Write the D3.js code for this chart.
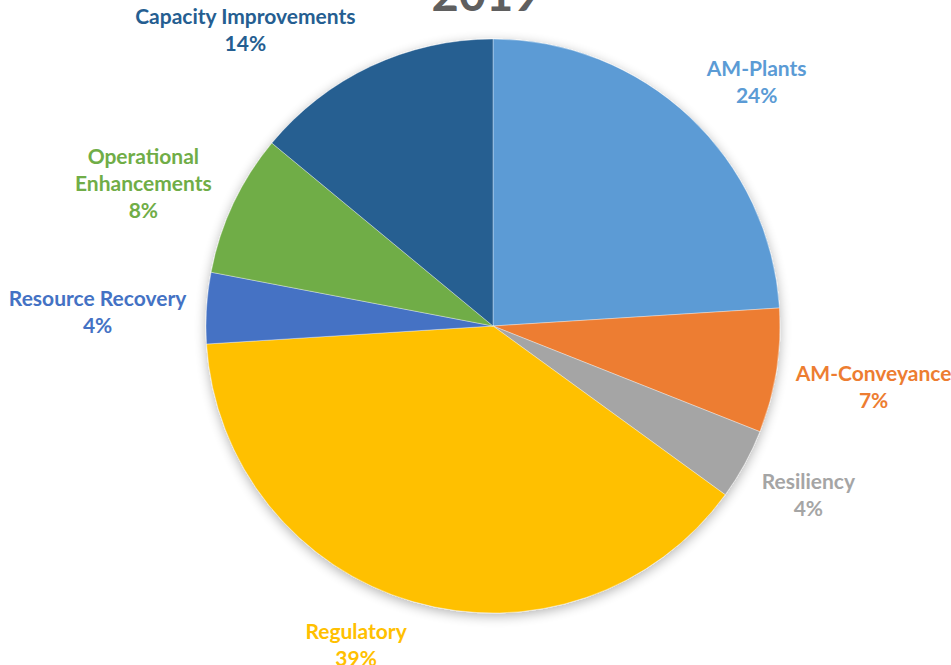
<!DOCTYPE html>
<html>
<head>
<meta charset="utf-8">
<script src="https://cdn.jsdelivr.net/npm/d3@7"></script>
<style>
  html, body { margin: 0; padding: 0; background: #ffffff; }
  svg { display: block; }
  text { font-family: Lato, "Open Sans", "Noto Sans", sans-serif; font-weight: 700; }
</style>
</head>
<body>
<svg id="chart" width="951" height="665"></svg>
<script>
// ---- data ----
const title = "2019";
const categories = ["AM-Plants", "AM-Conveyance", "Resiliency", "Regulatory", "Resource Recovery", "Operational Enhancements", "Capacity Improvements"];
const values = [24, 7, 4, 39, 4, 8, 14];
const percentLabels = ["24%", "7%", "4%", "39%", "4%", "8%", "14%"];
const colors = ["#5B9BD5", "#ED7D31", "#A5A5A5", "#FFC000", "#4472C4", "#70AD47", "#255E91"];
const labelLines = [["AM-Plants"], ["AM-Conveyance"], ["Resiliency"], ["Regulatory"], ["Resource Recovery"], ["Operational", "Enhancements"], ["Capacity Improvements"]];

// ---- layout (not data) ----
const W = 951, H = 665;
const cx = 493, cy = 326, R = 287;
const fontSize = 21, lineH = 27, labelPad = 20;
const labelNudge = {
  "AM-Plants": [19, 0],
  "AM-Conveyance": [0, 9],
  "Resiliency": [5, 8],
  "Regulatory": [-37, -2],
  "Resource Recovery": [0, 7],
  "Operational Enhancements": [-10, 6],
  "Capacity Improvements": [-70, 6]
};

const svg = d3.select("#chart");
const defs = svg.append("defs");
const f = defs.append("filter").attr("id", "shadow").attr("x", "-10%").attr("y", "-10%").attr("width", "120%").attr("height", "120%");
f.append("feGaussianBlur").attr("in", "SourceAlpha").attr("stdDeviation", 6).attr("result", "blur");
f.append("feOffset").attr("in", "blur").attr("dx", 0).attr("dy", 3).attr("result", "off");
f.append("feComponentTransfer").attr("in", "off").attr("result", "soft")
  .append("feFuncA").attr("type", "linear").attr("slope", 0.3);
const m = f.append("feMerge");
m.append("feMergeNode").attr("in", "soft");
m.append("feMergeNode").attr("in", "SourceGraphic");

const data = categories.map((c, i) => ({ cat: c, value: values[i], pct: percentLabels[i], color: colors[i], lines: labelLines[i] }));

const pie = d3.pie().value(d => d.value).sort(null);
const arcs = pie(data);
const arc = d3.arc().innerRadius(0).outerRadius(R);

const g = svg.append("g").attr("transform", `translate(${cx},${cy})`);
g.append("g").attr("filter", "url(#shadow)")
  .selectAll("path").data(arcs).enter().append("path")
  .attr("d", arc)
  .attr("fill", d => d.data.color)
  .attr("stroke", "#ffffff")
  .attr("stroke-width", 0.6)
  .attr("stroke-opacity", 0.6);

// title (partly cut off at top, as in the reference)
svg.append("text")
  .attr("x", 486).attr("y", 11)
  .attr("text-anchor", "middle")
  .attr("font-size", 47)
  .attr("fill", "#5f5f5f")
  .text(title);

// labels
const labels = svg.append("g");
arcs.forEach(a => {
  const d = a.data;
  const t = labels.append("text")
    .attr("text-anchor", "middle")
    .attr("font-size", fontSize)
    .attr("fill", d.color);
  const all = d.lines.concat([d.pct]);
  all.forEach((ln, i) => {
    t.append("tspan").attr("x", 0).attr("dy", i === 0 ? 0 : lineH).text(ln);
  });
  const bb = t.node().getBBox();
  const hw = bb.width / 2, hh = (all.length * lineH) / 2;
  const mid = (a.startAngle + a.endAngle) / 2;
  const ax = cx + (R + labelPad) * Math.sin(mid);
  const ay = cy - (R + labelPad) * Math.cos(mid);
  const nx = labelNudge[d.cat] || [0, 0];
  const lx = ax + hw * Math.sin(mid) + nx[0];
  const ly = ay - hh * Math.cos(mid) + nx[1];
  const firstBase = ly - hh + lineH * 0.5 + fontSize * 0.35;
  t.attr("transform", `translate(${lx},${firstBase})`);
});
</script>
</body>
</html>
